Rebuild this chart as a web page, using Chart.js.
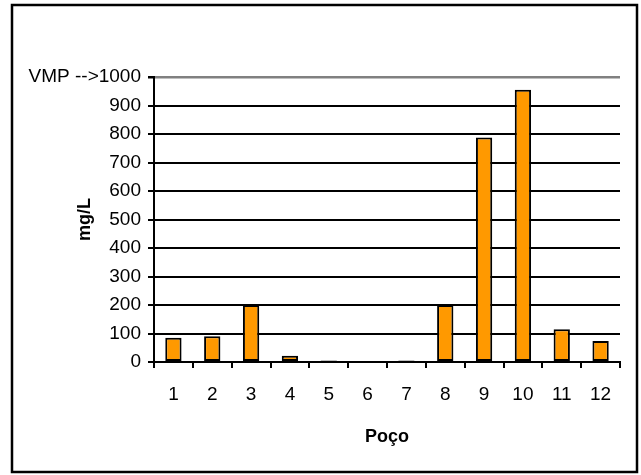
<!DOCTYPE html>
<html>
<head>
<meta charset="utf-8">
<script src="https://cdn.jsdelivr.net/npm/chart.js@4/dist/chart.umd.min.js"></script>
<style>
  html, body { margin: 0; padding: 0; background: #fff; }
  #wrap { width: 641px; height: 475px; position: relative; }
</style>
</head>
<body>
<div id="wrap"><canvas id="c" width="641" height="475"></canvas></div>
<script>
// Wells (Poço) and measured concentration in mg/L
const pocos = ['1', '2', '3', '4', '5', '6', '7', '8', '9', '10', '11', '12'];
const concentracao = [85, 90, 200, 22, 5, 0, 5, 200, 788, 955, 115, 74];
const yMax = 1000;
const yStep = 100;
const limiteLabel = 'VMP -->';

// Outer frame around the whole figure
const framePlugin = {
  id: 'frame',
  afterDraw(chart) {
    const ctx = chart.ctx;
    ctx.save();
    ctx.strokeStyle = '#000';
    ctx.lineWidth = 2.5;
    ctx.strokeRect(12, 5, 625, 467);
    ctx.restore();
  }
};

const font = { family: 'Liberation Sans, Arial, sans-serif', size: 19 };
const boldFont = { family: font.family, size: 18, weight: 'bold' };

new Chart(document.getElementById('c'), {
  type: 'bar',
  data: {
    labels: pocos,
    datasets: [{
      data: concentracao,
      backgroundColor: '#FF9900',
      borderColor: '#000',
      borderWidth: 2,
      borderSkipped: false,
      categoryPercentage: 1,
      barPercentage: 0.42
    }]
  },
  options: {
    responsive: false,
    animation: false,
    devicePixelRatio: 1,
    layout: { padding: { left: 0, top: 77, right: 21, bottom: 0 } },
    plugins: { legend: { display: false }, tooltip: { enabled: false } },
    scales: {
      x: {
        grid: { drawOnChartArea: false, drawTicks: true, tickLength: 6, tickColor: '#000', lineWidth: 2, offset: true },
        border: { color: '#000', width: 2 },
        ticks: { color: '#000', font: font, padding: 15, maxRotation: 0 },
        title: { display: true, text: 'Poço', color: '#000', font: boldFont, padding: { top: 0, bottom: 27 } },
        afterFit(scale) { scale.height = 113; }
      },
      y: {
        min: 0,
        max: yMax,
        grid: {
          color: ctx => (ctx.tick && ctx.tick.value === yMax ? '#808080' : '#000'),
          lineWidth: ctx => (ctx.tick && ctx.tick.value === yMax ? 2.5 : 2),
          drawTicks: true,
          tickLength: 6,
          tickColor: '#000'
        },
        border: { color: '#000', width: 2 },
        ticks: {
          stepSize: yStep,
          color: '#000',
          font: font,
          padding: 7,
          callback: v => (v === yMax ? limiteLabel + v : v)
        },
        title: { display: true, text: 'mg/L', color: '#000', font: boldFont, padding: { top: 74, bottom: 0 } },
        afterFit(scale) { scale.width = 154; }
      }
    }
  },
  plugins: [framePlugin]
});
</script>
</body>
</html>
